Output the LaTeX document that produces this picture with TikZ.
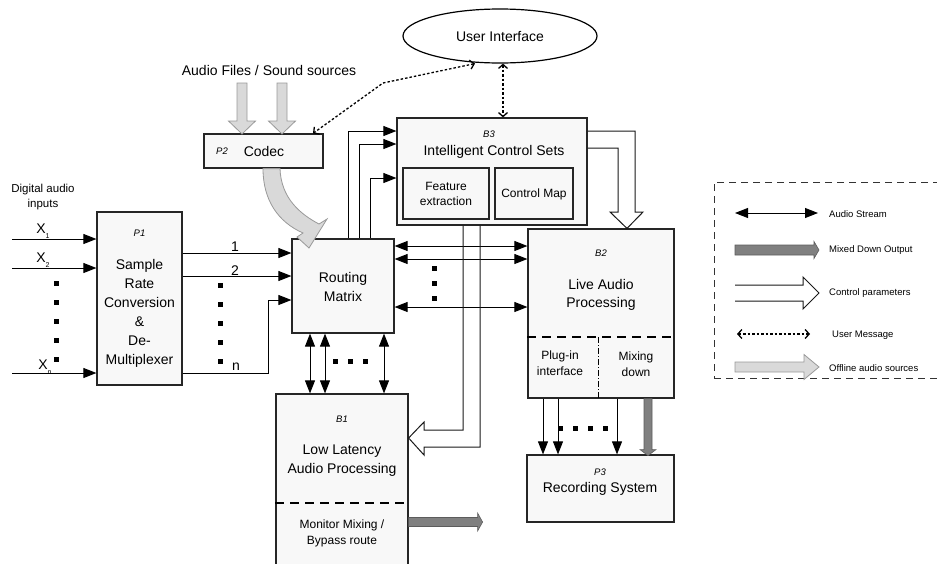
\documentclass[tikz,border=0pt]{standalone}
\usepackage{fontspec}
\setmainfont{Liberation Sans}
\usetikzlibrary{arrows.meta,shapes.geometric}

\definecolor{boxfill}{HTML}{F8F8F8}
\definecolor{boxline}{HTML}{262626}
\definecolor{srcfill}{HTML}{D9D9D9}
\definecolor{srcline}{HTML}{999999}
\definecolor{mixfill}{HTML}{808080}
\definecolor{mixline}{HTML}{5C5C5C}

% straight block arrow: length, shaft half width, head half width, head length
\tikzset{
  pics/blockarrow/.style n args={4}{code={%
    \path[pic actions] (0,{-#2}) -- ({#1-#4},{-#2}) -- ({#1-#4},{-#3}) -- (#1,0)
      -- ({#1-#4},#3) -- ({#1-#4},#2) -- (0,#2) -- cycle;}},
}

\begin{document}
\begin{tikzpicture}[x=1pt,y=-1pt,
  box/.style={draw=boxline,fill=boxfill,line width=1.2pt,inner sep=0pt},
  txt/.style={font=\fontsize{14}{19}\selectfont,align=center,inner sep=0pt},
  small/.style={font=\fontsize{12}{16}\selectfont,align=center,inner sep=0pt},
  tag/.style={font=\fontsize{9.5}{11}\selectfont\itshape,inner sep=0pt},
  leg/.style={font=\fontsize{9.5}{11}\selectfont,anchor=west,inner sep=0pt},
  audio/.style={line width=0.9pt,{Triangle[length=13pt,width=10pt]}-{Triangle[length=13pt,width=10pt]}},
  feed/.style={line width=0.9pt,-{Triangle[length=13pt,width=10pt]}},
  umsg/.style={line width=1.3pt,dash pattern=on 2.5pt off 2pt,
    {Straight Barb[length=4pt,width=9pt]}-{Straight Barb[length=4pt,width=9pt]}},
  ctrl/.style={draw=black!90,line width=1pt,line join=miter},
  divider/.style={line width=1.4pt,dash pattern=on 9pt off 6pt},
  srcarrow/.style={draw=srcline,fill=srcfill,line width=0.8pt},
  mixarrow/.style={draw=mixline,fill=mixfill,line width=0.6pt},
]
\useasboundingbox (0,0) rectangle (937,563);
\clip (0,0) rectangle (937,563);

% ---------- blocks ----------
\node[box,minimum width=85pt,minimum height=173pt] (p1) at (139.5,298.5) {};
\node[box,minimum width=119pt,minimum height=34pt] (codec) at (263.5,151) {};
\node[box,minimum width=102pt,minimum height=94pt] (rm) at (343,286) {};
\node[box,minimum width=190pt,minimum height=107pt] (b3) at (492,171.5) {};
\node[box,minimum width=86pt,minimum height=51pt] (fe) at (446,193.5) {};
\node[box,minimum width=78pt,minimum height=51pt] (cm) at (534,193.5) {};
\node[box,minimum width=146pt,minimum height=169pt] (b2) at (601,313.5) {};
\node[box,minimum width=132pt,minimum height=181pt] (b1) at (342,484.5) {};
\node[box,minimum width=147pt,minimum height=67pt] (p3) at (600.5,488.5) {};
\node[ellipse,draw=black,line width=1.2pt,fill=white,minimum width=194pt,minimum height=54pt,inner sep=0pt] (ui) at (500,36) {};

% inner dividers
\draw[divider] (b2.west |- 0,337) -- (b2.east |- 0,337);
\draw[line width=0.6pt,dash pattern=on 6pt off 2pt on 1pt off 2pt] (598,337) -- (b2.south -| 598,0);
\draw[divider] (b1.west |- 0,503) -- (b1.east |- 0,503);

% ---------- digital inputs ----------
\coordinate (in1) at (12,239);
\coordinate (in2) at (12,268);
\coordinate (inn) at (12,373);
\draw[feed] (in1) -- (p1.west |- in1);
\draw[feed] (in2) -- (p1.west |- in2);
\draw[feed] (inn) -- (p1.west |- inn);
\foreach \y in {283,302,321,340,359} \fill (53.5,\y-2.5) rectangle (58.5,\y+2.5);

% ---------- demultiplexer outputs ----------
\draw[feed] (p1.east |- 0,253) -- (rm.west |- 0,253);
\draw[feed] (p1.east |- 0,276) -- (rm.west |- 0,276);
\draw[feed] (p1.east |- 0,373) -- (268,373) -- (268,300) -- (rm.west |- 0,300);
\foreach \y in {285,304,323,342,361} \fill (217.5,\y-2.5) rectangle (222.5,\y+2.5);

% ---------- routing matrix <-> live processing ----------
\draw[audio] (rm.east |- 0,246) -- (b2.west |- 0,246);
\draw[audio] (rm.east |- 0,259) -- (b2.west |- 0,259);
\draw[audio] (rm.east |- 0,307) -- (b2.west |- 0,307);
\foreach \y in {268,283,298} \fill (431.5,\y-2.5) rectangle (436.5,\y+2.5);

% ---------- routing matrix <-> low latency ----------
\foreach \x in {310,325,384} \draw[audio] (rm.south -| \x,0) -- (b1.north -| \x,0);
\foreach \x in {335,350,365} \fill (\x-2.5,358.5) rectangle (\x+2.5,363.5);

% ---------- routing matrix -> control sets ----------
\draw[feed] (rm.north -| 348,0) |- (b3.west |- 0,131);
\draw[feed] (rm.north -| 359,0) |- (b3.west |- 0,144);
\draw[feed] (rm.north -| 370,0) |- (b3.west |- 0,178);

% ---------- control parameters ----------
\draw[ctrl] (b3.east |- 0,131) -- (635,131) -- (635,212) -- (643,212) -- (b2.north -| 627,0)
  -- (610,212) -- (618,212) -- (618,148) -- (b3.east |- 0,148);
\draw[ctrl] (b3.south -| 463,0) -- (463,430) -- (424,430) -- (424,422) -- (b1.east |- 0,438)
  -- (424,455) -- (424,447) -- (480,447) -- (b3.south -| 480,0);

% ---------- live processing -> recording ----------
\foreach \x in {543,558,617} \draw[feed] (b2.south -| \x,0) -- (p3.north -| \x,0);
\foreach \x in {560,575,590,605} \fill (\x-2.5,425.5) rectangle (\x+2.5,430.5);
\pic[mixarrow,rotate=-90] (mixdown) at (b2.south -| 648,0) {blockarrow={57}{4}{8}{6}};

% monitor / bypass output
\pic[mixarrow] (bypass) at (b1.east |- 0,522) {blockarrow={74}{4.5}{9}{5}};

% ---------- offline sources ----------
\pic[srcarrow,rotate=-90] (srcA) at (242,83) {blockarrow={51}{5}{13.5}{13}};
\pic[srcarrow,rotate=-90] (srcB) at (282,83) {blockarrow={51}{5}{13.5}{13}};
\path[srcarrow] (codec.south -| 263,0) .. controls (263,200) and (278,222) .. (303,233)
  -- (297,237) -- (309,248) -- (327,219) -- (319,224)
  .. controls (300,214) and (281,198) .. (codec.south -| 280,0) -- cycle;

% ---------- user messages ----------
\draw[umsg] (ui.south -| 503,0) -- (b3.north -| 503,0);
\draw[umsg] (ui.south -| 475,0) -- (383,83) -- (codec.north -| 313,0);

% ---------- texts ----------
\node[small,font=\fontsize{11.5}{15}\selectfont] (dai) at (43,197.5) {Digital audio\\inputs};
\node[txt] (x1) at (43,231) {X\raisebox{-5pt}{\fontsize{7}{7}\selectfont 1}};
\node[txt] (x2) at (43,260) {X\raisebox{-5pt}{\fontsize{7}{7}\selectfont 2}};
\node[txt] (xn) at (45,367) {X\raisebox{-5pt}{\fontsize{7}{7}\selectfont n}};
\node[txt] (o1) at (235,247) {1};
\node[txt] (o2) at (235,271) {2};
\node[txt] (on) at (236,367) {n};

\node[tag] (p1tag) at (139.5,233) {P1};
\node[txt] (p1txt) at (139.5,313.5) {Sample\\Rate\\Conversion\\\&\\De-\\Multiplexer};
\node[tag] (p2tag) at (222,151) {P2};
\node[txt] (codectxt) at (264,151) {Codec};
\node[txt] (files) at (269,70) {Audio Files / Sound sources};
\node[txt] (rmtxt) at (343,286.5) {Routing\\Matrix};
\node[tag] (b3tag) at (489,134) {B3};
\node[txt] (b3txt) at (494,152) {Intelligent Control Sets};
\node[small,font=\fontsize{12}{15}\selectfont] (fetxt) at (446,193.5) {Feature\\extraction};
\node[small] (cmtxt) at (534,194) {Control Map};
\node[tag] (b2tag) at (601,253) {B2};
\node[txt,font=\fontsize{14}{18.5}\selectfont] (b2txt) at (601,295) {Live Audio\\Processing};
\node[small] (plug) at (560,363) {Plug-in\\interface};
\node[small] (mixd) at (636,364) {Mixing\\down};
\node[tag] (b1tag) at (342,419) {B1};
\node[txt] (b1txt) at (342,460.5) {Low Latency\\Audio Processing};
\node[small] (mon) at (342,533) {Monitor Mixing /\\Bypass route};
\node[tag] (p3tag) at (600,472) {P3};
\node[txt] (p3txt) at (600,489) {Recording System};
\node[txt] (uitxt) at (500,36) {User Interface};

% ---------- legend ----------
\node[draw=black!80,dash pattern=on 7pt off 5pt,line width=0.9pt,minimum width=231pt,
  minimum height=196pt,inner sep=0pt] (legend) at (829.5,280) {};
\draw[audio] (735,213) -- (818,213);
\node[leg] (lg1) at (829,214) {Audio Stream};
\pic[mixarrow] (lgmix) at (735,250) {blockarrow={84}{5}{8.5}{5}};
\node[leg] (lg2) at (829,250) {Mixed Down Output};
\draw[ctrl] (735,285) -- (803,285) -- (803,277) -- (819,293) -- (803,309) -- (803,301) -- (735,301);
\node[leg] (lg3) at (829,293) {Control parameters};
\draw[umsg] (737,334) -- (810,334);
\node[leg] (lg4) at (832,335) {User Message};
\pic[srcarrow] (lgsrc) at (735,367) {blockarrow={84}{5}{12.5}{15}};
\node[leg] (lg5) at (829,368) {Offline audio sources};
\end{tikzpicture}
\end{document}
